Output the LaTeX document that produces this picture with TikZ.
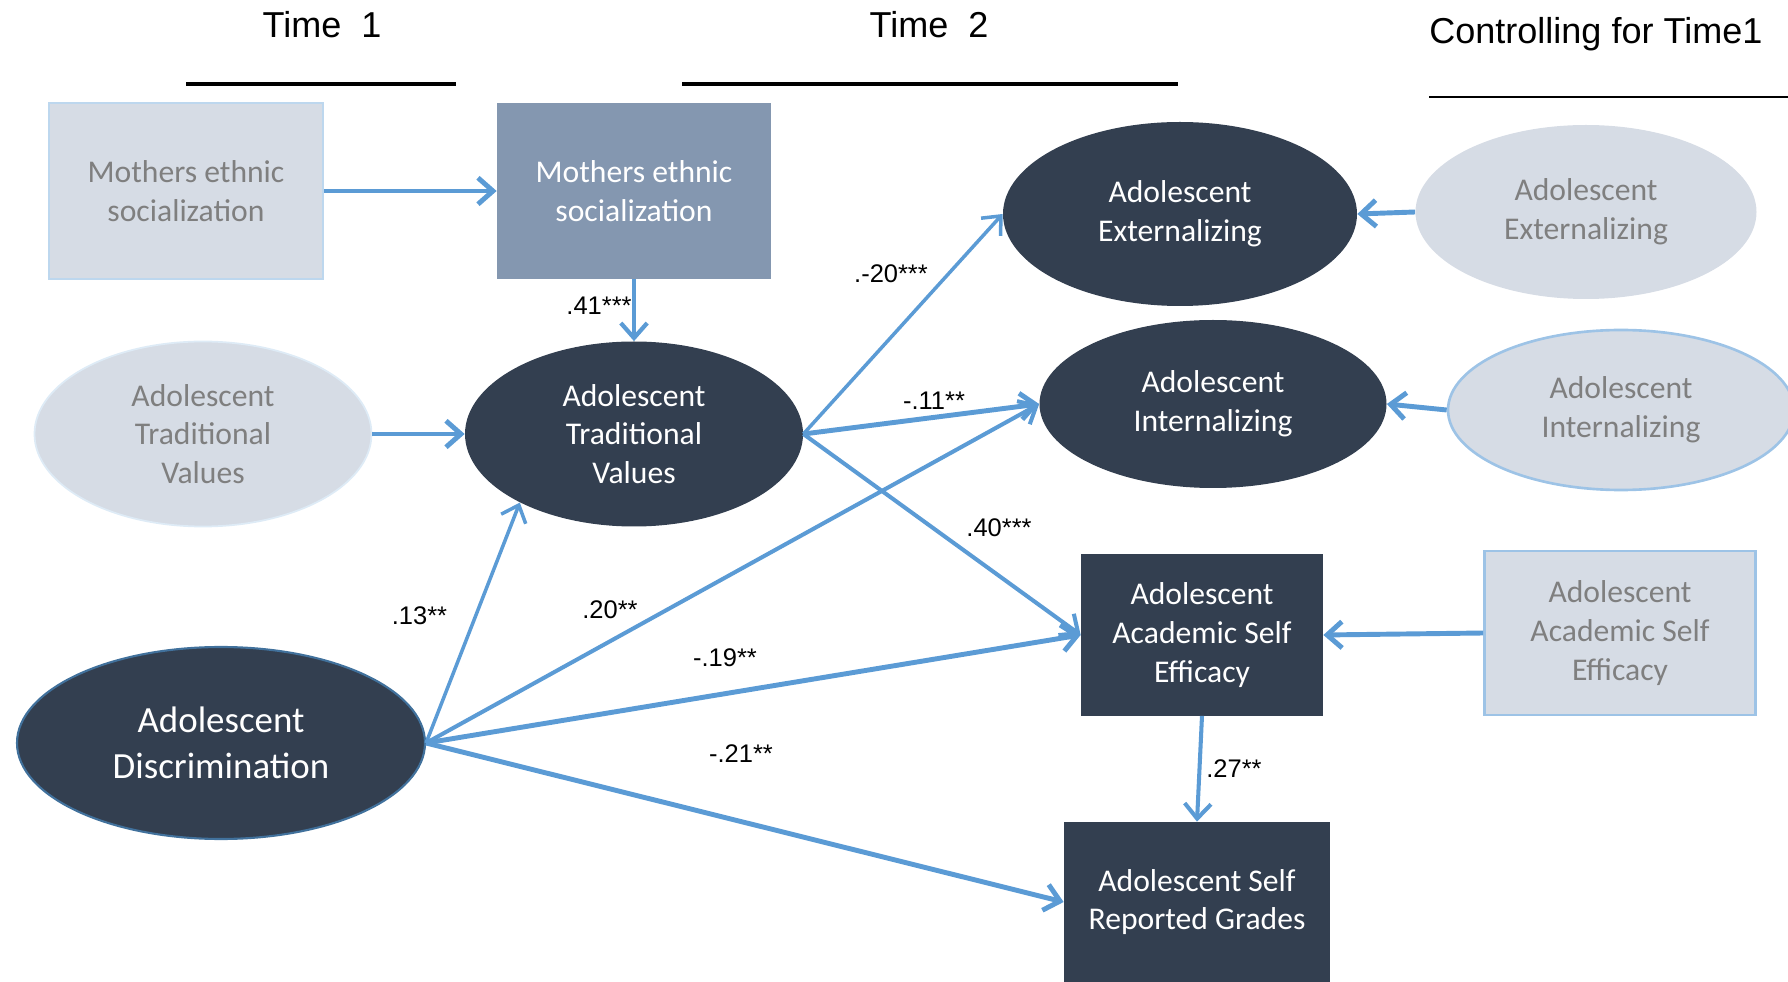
\documentclass[tikz,border=0pt]{standalone}
\usepackage{fontspec}
\setmainfont{Carlito}
\newfontfamily\arialfont{Liberation Sans}
\usetikzlibrary{arrows.meta,
shapes.geometric,
calc,
positioning}

\definecolor{navy}{HTML}{333F50}
\definecolor{slate}{HTML}{8497B0}
\definecolor{mist}{HTML}{D6DCE5}
\definecolor{paleblue}{HTML}{9DC3E6}
\definecolor{frostblue}{HTML}{BDD7EE}
\definecolor{linkblue}{HTML}{5B9BD5}
\definecolor{edgeblue}{HTML}{41719C}
\definecolor{greytext}{HTML}{7F7F7F}

\begin{document}
\begin{tikzpicture} [>={Straight Barb[length=8.5pt, width=15pt]},
    every node/.style={font=\fontsize{18}{22}\selectfont, align=center, inner sep=0pt},
    dark box/.style={rectangle, fill = navy, text = white},
    dark oval/.style={ellipse, fill = navy, text = white},
    light box/.style={rectangle, fill = mist, text = greytext},
    light oval/.style={ellipse, fill = mist, text = greytext},
    link/.style={->, draw = linkblue, line width = 2pt},
    bold link/.style={link, line width = 2.8pt},
    weight/.style={font=\arialfont\fontsize{14.5}{17}\selectfont},
    heading/.style={font=\arialfont\fontsize{20.5}{24}\selectfont},
    rule/.style={line width = 2.5pt}]

  \useasboundingbox (0, 0) rectangle (35.76, -19.64);

  % headings
  \node [heading] (t1) at (6.44, -0.50) {Time\ \ 1};
  \node [heading] (t2) at (18.58, -0.50) {Time\ \ 2};
  \node [heading, anchor = west] (ctrl) at (28.58, -0.68) {Controlling for Time1};

  \draw [rule] (3.72, -1.68) -- (9.12, -1.68);
  \draw [rule] (13.64, -1.68) -- (23.56, -1.68);
  \draw [line width = 1.6pt] (28.58, -1.94) -- (35.76, -1.94);

  % time 1
  \node [light box,
    draw = frostblue,
    line width = 1pt,
    minimum width = 5.48cm,
    minimum height = 3.52cm
  ] (mes1) at (3.72, -3.82) {Mothers ethnic\\socialization};

  \node [light oval,
    draw = frostblue!50!white,
    line width = 1pt,
    minimum width = 6.74cm,
    minimum height = 3.70cm
  ] (trad1) at (4.06, -8.68) {Adolescent\\Traditional\\Values};

  \node [dark oval,
    draw = edgeblue,
    line width = 1.2pt,
    font = \fontsize{21}{26}\selectfont,
    minimum width = 8.16cm,
    minimum height = 3.84cm
  ] (disc) at (4.42, -14.86) {Adolescent\\Discrimination};

  % time 2
  \node [rectangle,
    fill = slate,
    text = white,
    minimum width = 5.48cm,
    minimum height = 3.52cm
  ] (mes2) at (12.68, -3.82) {Mothers ethnic\\socialization};

  \node [dark oval,
    minimum width = 6.76cm,
    minimum height = 3.70cm
  ] (trad2) at (12.68, -8.68) {Adolescent\\Traditional\\Values};

  \node [dark oval,
    minimum width = 7.08cm,
    minimum height = 3.68cm
  ] (ext2) at (23.60, -4.28) {Adolescent\\Externalizing};

  \node [dark oval,
    minimum width = 6.94cm,
    minimum height = 3.36cm
  ] (int2) at (24.26, -8.08) {Adolescent\\Internalizing};

  \node [dark box,
    minimum width = 4.84cm,
    minimum height = 3.22cm
  ] (acad2) at (24.04, -12.70) {Adolescent\\Academic Self\\Efficacy};

  \node [dark box,
    minimum width = 5.32cm,
    minimum height = 3.20cm
  ] (grades) at (23.94, -18.04) {Adolescent Self\\Reported Grades};

  % controls
  \node [light oval,
    % draw = frostblue,
    minimum width = 6.82cm,
    minimum height = 3.48cm
  ] (ext1) at (31.72, -4.24) {Adolescent\\Externalizing};

  \node [light oval,
    draw = paleblue,
    line width = 1.5pt,
    minimum width = 6.92cm,
    minimum height = 3.20cm
  ] (int1) at (32.42, -8.20) {Adolescent\\Internalizing};

  \node [light box,
    draw = paleblue,
    line width = 1.5pt,
    minimum width = 5.42cm,
    minimum height = 3.28cm
  ] (acad1) at (32.40, -12.66) {Adolescent\\Academic Self\\Efficacy};

  % paths
  \draw [bold link] (mes1.east) -- (mes2.west);
  \draw [bold link] (trad1.east) -- (trad2.west);
  \draw [link, line width = 2.4pt] (mes2.south) -- (trad2.north);

  \draw [link] (disc.east) -- (trad2.211);
  \draw [link, line width = 2.3pt] (disc.east) -- (int2.west);
  \draw [bold link] (disc.east) -- (acad2.west);
  \draw [bold link] (disc.east) -- (grades.west);

  \draw [link] (trad2.east) -- (ext2.west);
  \draw [bold link] (trad2.east) -- (int2.west);
  \draw [link, line width = 2.3pt] (trad2.east) -- (acad2.west);
  \draw [link, line width = 2.3pt] (acad2.south) -- (grades.north);

  \draw [bold link] (ext1.west) -- (ext2.east);
  \draw [bold link] (int1.west) -- (int2.east);
  \draw [bold link] (acad1.west) -- (acad2.east);

  % path weights
  \node [weight] (w41) at (11.98, -6.12) {.41***};
  \node [weight] (w13) at (8.39, -12.32) {.13**};
  \node [weight] (w20) at (12.20, -12.20) {.20**};
  \node [weight] (w19) at (14.50, -13.16) {-.19**};
  \node [weight] (w21) at (14.82, -15.08) {-.21**};
  \node [weight] (wext) at (17.82, -5.48) {.-20***};
  \node [weight] (w11) at (18.68, -8.02) {-.11**};
  \node [weight] (w40) at (19.98, -10.56) {.40***};
  \node [weight] (w27) at (24.68, -15.38) {.27**};

\end{tikzpicture}
\end{document}
